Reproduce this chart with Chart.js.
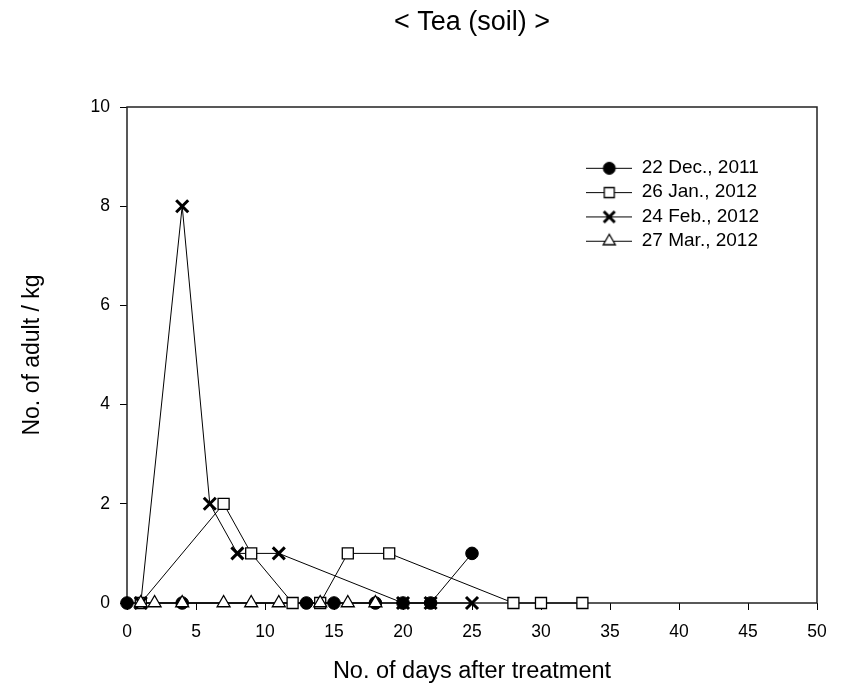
<!DOCTYPE html>
<html>
<head>
<meta charset="utf-8">
<title>Tea (soil)</title>
<script src="https://cdn.jsdelivr.net/npm/chart.js@4/dist/chart.umd.min.js"></script>
<style>
  html, body { margin: 0; padding: 0; background: #fff; }
  canvas { display: block; }
</style>
</head>
<body>
<canvas id="chart" width="843" height="689"></canvas>
<script>
// Survey dates (series names)
const seriesNames = ['22 Dec., 2011', '26 Jan., 2012', '24 Feb., 2012', '27 Mar., 2012'];

// Days after treatment and adults per kg for each survey
const daysDec = [0, 4, 13, 15, 18, 20, 22, 25];
const adultsDec = [0, 0, 0, 0, 0, 0, 0, 1];

const daysJan = [1, 7, 9, 12, 14, 16, 19, 28, 30, 33];
const adultsJan = [0, 2, 1, 0, 0, 1, 1, 0, 0, 0];

const daysFeb = [1, 4, 6, 8, 11, 20, 22, 25];
const adultsFeb = [0, 8, 2, 1, 1, 0, 0, 0];

const daysMar = [1, 2, 4, 7, 9, 11, 14, 16, 18];
const adultsMar = [0, 0, 0, 0, 0, 0, 0, 0, 0];

// Axis ranges / tick steps
const xTickStep = 5, xMin = 0, xMax = 50;
const yTickStep = 2, yMin = 0, yMax = 10;

const FONT = "'Liberation Sans', Arial, Helvetica, sans-serif";
const INK = '#000';

function toPoints(xs, ys) {
  return xs.map((x, i) => ({ x: x, y: ys[i] }));
}

// Marker styling per series
const markers = [
  { style: 'circle',   radius: 6.3, fill: '#000', border: 1,   order: 1 },
  { style: 'rect',     radius: 7.8, fill: '#fff', border: 1.3, order: 3 },
  { style: 'crossRot', radius: 8.5, fill: '#000', border: 3,   order: 2 },
  { style: 'triangle', radius: 7.5, fill: '#fff', border: 1.3, order: 0 }
];

const seriesData = [
  toPoints(daysDec, adultsDec),
  toPoints(daysJan, adultsJan),
  toPoints(daysFeb, adultsFeb),
  toPoints(daysMar, adultsMar)
];

// Lines are drawn first, all markers on top of them
const datasets = [];
seriesData.forEach((pts, i) => {
  datasets.push({
    label: seriesNames[i] + ' line',
    data: pts,
    showLine: true,
    borderColor: INK,
    borderWidth: 1,
    pointRadius: 0,
    pointHoverRadius: 0,
    order: 10,
    clip: false
  });
});
seriesData.forEach((pts, i) => {
  const m = markers[i];
  datasets.push({
    label: seriesNames[i],
    data: pts,
    showLine: false,
    pointStyle: m.style,
    pointRadius: m.radius,
    pointHoverRadius: m.radius,
    pointBackgroundColor: m.fill,
    pointBorderColor: INK,
    pointBorderWidth: m.border,
    order: m.order,
    clip: false
  });
});

// Legend swatch: short line with the series marker in the middle
function swatch(m) {
  const c = document.createElement('canvas');
  c.width = 46; c.height = 20;
  const g = c.getContext('2d');
  const cx = 23, cy = 10;
  g.strokeStyle = INK;
  g.lineWidth = 1;
  g.beginPath(); g.moveTo(0, cy + 0.5); g.lineTo(46, cy + 0.5); g.stroke();
  g.fillStyle = m.fill;
  g.lineWidth = m.border;
  g.beginPath();
  if (m.style === 'circle') {
    g.arc(cx, cy + 0.5, 6, 0, Math.PI * 2);
    g.fill(); g.stroke();
  } else if (m.style === 'rect') {
    g.rect(cx - 5, cy - 4.5, 10, 10);
    g.fill(); g.stroke();
  } else if (m.style === 'crossRot') {
    const d = 5.5;
    g.moveTo(cx - d, cy + 0.5 - d); g.lineTo(cx + d, cy + 0.5 + d);
    g.moveTo(cx + d, cy + 0.5 - d); g.lineTo(cx - d, cy + 0.5 + d);
    g.stroke();
  } else {
    const r = 7;
    g.moveTo(cx, cy + 0.5 - r);
    g.lineTo(cx + r * 0.866, cy + 0.5 + r / 2);
    g.lineTo(cx - r * 0.866, cy + 0.5 + r / 2);
    g.closePath();
    g.fill(); g.stroke();
  }
  return c;
}

// Full box around the plotting area
const frame = {
  id: 'frame',
  beforeDatasetsDraw(chart) {
    const a = chart.chartArea, ctx = chart.ctx;
    ctx.save();
    ctx.strokeStyle = '#222';
    ctx.lineWidth = 1.5;
    ctx.strokeRect(a.left, a.top, a.right - a.left, a.bottom - a.top);
    ctx.restore();
  }
};

// Keep the legend inside the plot, upper right, without taking layout room
const legendPlacer = {
  id: 'legendPlacer',
  afterInit(chart) {
    const lg = chart.legend;
    const baseFit = lg.fit;
    lg.fit = function () { baseFit.call(this); this.width = 0; };
  },
  afterLayout(chart) {
    const lg = chart.legend;
    const w = 230, h = 115;
    lg.left = 581; lg.top = 153;
    lg.right = lg.left + w; lg.bottom = lg.top + h;
    lg.width = w; lg.height = h;
  }
};

new Chart(document.getElementById('chart'), {
  type: 'scatter',
  data: { datasets: datasets },
  plugins: [frame, legendPlacer],
  options: {
    responsive: false,
    animation: false,
    events: [],
    layout: { padding: { left: 0, right: 26, top: 0, bottom: 0 } },
    plugins: {
      tooltip: { enabled: false },
      title: {
        display: true,
        text: '< Tea (soil) >',
        color: INK,
        fullSize: false,
        font: { family: FONT, size: 27, weight: 'normal' },
        padding: { top: 6, bottom: 68.6 }
      },
      legend: {
        display: true,
        position: 'right',
        align: 'start',
        labels: {
          usePointStyle: true,
          pointStyleWidth: 46,
          boxHeight: 19,
          padding: 5.3,
          color: INK,
          font: { family: FONT, size: 19 },
          generateLabels(chart) {
            return seriesNames.map((name, i) => ({
              text: name,
              pointStyle: swatch(markers[i]),
              fillStyle: markers[i].fill,
              strokeStyle: INK,
              fontColor: INK,
              lineWidth: 0,
              hidden: false,
              datasetIndex: 4 + i
            }));
          }
        }
      }
    },
    scales: {
      x: {
        type: 'linear',
        position: 'bottom',
        min: xMin, max: xMax,
        afterFit(scale) { scale.height = 86; },
        ticks: {
          stepSize: xTickStep,
          color: INK,
          padding: 12,
          maxRotation: 0,
          font: { family: FONT, size: 17.5 }
        },
        grid: { drawOnChartArea: false, drawTicks: true, tickLength: 7, color: INK, lineWidth: 1 },
        border: { display: false },
        title: {
          display: true,
          text: 'No. of days after treatment',
          color: INK,
          font: { family: FONT, size: 23.5 },
          padding: { top: 0, bottom: 3 }
        }
      },
      y: {
        type: 'linear',
        position: 'left',
        min: yMin, max: yMax,
        afterFit(scale) { scale.width = 127; },
        ticks: {
          stepSize: yTickStep,
          color: INK,
          padding: 10,
          font: { family: FONT, size: 17.5 }
        },
        grid: { drawOnChartArea: false, drawTicks: true, tickLength: 7, color: INK, lineWidth: 1 },
        border: { display: false },
        title: {
          display: true,
          text: 'No. of adult / kg',
          color: INK,
          font: { family: FONT, size: 23 },
          padding: { top: 19, bottom: 0 }
        }
      }
    }
  }
});
</script>
</body>
</html>
